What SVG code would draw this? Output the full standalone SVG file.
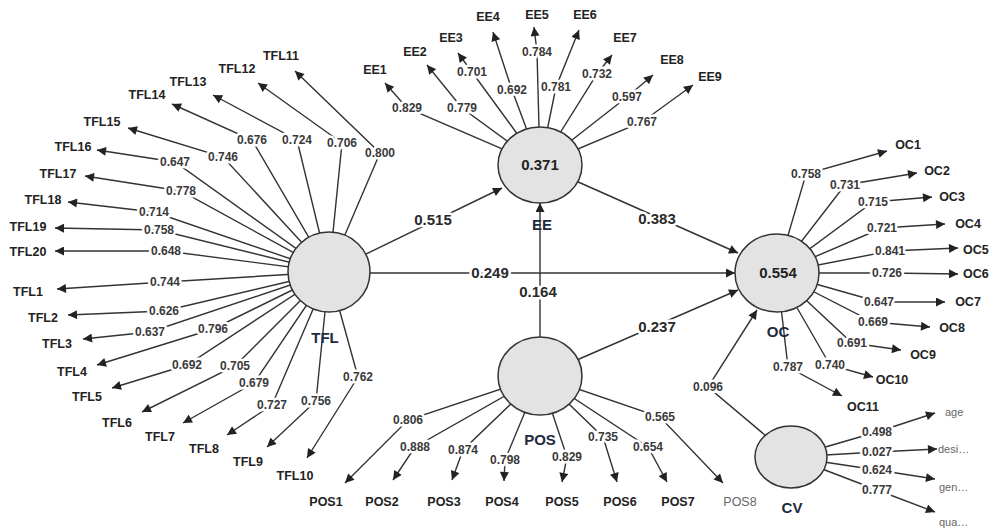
<svg xmlns="http://www.w3.org/2000/svg" width="993" height="530" viewBox="0 0 993 530">
<defs>
<marker id="ah" viewBox="0 0 10 10" refX="10" refY="5" markerWidth="10" markerHeight="9" markerUnits="userSpaceOnUse" orient="auto">
<path d="M0,0 L10,5 L0,10 z" fill="#222"/>
</marker>
<style>
.ln{fill:none;stroke:#333;stroke-width:1.4;marker-end:url(#ah)}
.ld{font-family:"Liberation Sans",Arial,sans-serif;font-weight:bold;font-size:12px;fill:#3a3a3a;text-anchor:middle;paint-order:stroke;stroke:#fff;stroke-width:5;stroke-linejoin:round}
.pc{font-family:"Liberation Sans",Arial,sans-serif;font-weight:bold;font-size:15px;fill:#2a2a2a;text-anchor:middle;paint-order:stroke;stroke:#fff;stroke-width:5;stroke-linejoin:round}
.ind{font-family:"Liberation Sans",Arial,sans-serif;font-weight:bold;font-size:12.5px;fill:#222;text-anchor:middle}
.cvi{font-family:"Liberation Sans",Arial,sans-serif;font-size:11px;fill:#666;text-anchor:start}
.cn{font-family:"Liberation Sans",Arial,sans-serif;font-weight:bold;font-size:15px;fill:#1e2a40;text-anchor:middle}
.val{font-family:"Liberation Sans",Arial,sans-serif;font-weight:bold;font-size:15px;fill:#222;text-anchor:middle}
.lv{fill:#e3e3e3;stroke:#333;stroke-width:1.5}
</style>
</defs>
<rect width="993" height="530" fill="#fff"/>

<g id="connectors">
<path class="ln" d="M329,272 L502,188"/>
<path class="ln" d="M329,273 L735,273"/>
<path class="ln" d="M540,376 L540,203"/>
<path class="ln" d="M540,165 L738,253"/>
<path class="ln" d="M540,376 L738,290"/>
<path class="ln" d="M791,457 L708,387 L757,310"/>
<path class="ln" d="M329,272 L165,282 L57,289"/>
<path class="ln" d="M329,272 L164,311 L68,315"/>
<path class="ln" d="M329,272 L150,332 L83,339"/>
<path class="ln" d="M329,272 L213,329 L97,365"/>
<path class="ln" d="M329,272 L187,365 L112,388"/>
<path class="ln" d="M329,272 L235,366 L142,412"/>
<path class="ln" d="M329,272 L254,383 L183,423"/>
<path class="ln" d="M329,272 L272,405 L227,435"/>
<path class="ln" d="M329,272 L316,401 L267,447"/>
<path class="ln" d="M329,272 L358,377 L307,458"/>
<path class="ln" d="M329,272 L380,153 L295,71"/>
<path class="ln" d="M329,272 L342,143 L258,83"/>
<path class="ln" d="M329,272 L297,140 L213,95"/>
<path class="ln" d="M329,272 L252,140 L172,104"/>
<path class="ln" d="M329,272 L223,157 L128,128"/>
<path class="ln" d="M329,272 L175,162 L97,150"/>
<path class="ln" d="M329,272 L181,191 L85,176"/>
<path class="ln" d="M329,272 L154,212 L68,202"/>
<path class="ln" d="M329,272 L159,230 L55,228"/>
<path class="ln" d="M329,272 L166,251 L55,251"/>
<path class="ln" d="M540,165 L407,108 L385,83"/>
<path class="ln" d="M540,165 L462,108 L427,65"/>
<path class="ln" d="M540,165 L472,72 L458,53"/>
<path class="ln" d="M540,165 L512,90 L493,32"/>
<path class="ln" d="M540,165 L537,52 L534,27"/>
<path class="ln" d="M540,165 L556,87 L579,30"/>
<path class="ln" d="M540,165 L597,74 L612,55"/>
<path class="ln" d="M540,165 L627,97 L653,75"/>
<path class="ln" d="M540,165 L642,122 L693,85"/>
<path class="ln" d="M777,273 L806,174 L887,151"/>
<path class="ln" d="M777,273 L845,185 L917,173"/>
<path class="ln" d="M777,273 L873,202 L932,197"/>
<path class="ln" d="M777,273 L882,228 L945,224"/>
<path class="ln" d="M777,273 L890,251 L958,248"/>
<path class="ln" d="M777,273 L887,273 L958,274"/>
<path class="ln" d="M777,273 L879,302 L945,302"/>
<path class="ln" d="M777,273 L873,322 L930,327"/>
<path class="ln" d="M777,273 L852,343 L901,350"/>
<path class="ln" d="M777,273 L830,365 L873,377"/>
<path class="ln" d="M777,273 L788,367 L842,396"/>
<path class="ln" d="M540,376 L408,420 L345,483"/>
<path class="ln" d="M540,376 L415,447 L393,480"/>
<path class="ln" d="M540,376 L463,450 L452,480"/>
<path class="ln" d="M540,376 L505,460 L504,481"/>
<path class="ln" d="M540,376 L567,457 L562,482"/>
<path class="ln" d="M540,376 L603,437 L617,482"/>
<path class="ln" d="M540,376 L648,447 L667,482"/>
<path class="ln" d="M540,376 L660,417 L723,483"/>
<path class="ln" d="M791,457 L877,432 L935,413"/>
<path class="ln" d="M791,457 L877,452 L937,449"/>
<path class="ln" d="M791,457 L877,470 L935,479"/>
<path class="ln" d="M791,457 L877,490 L935,512"/>
</g>

<g id="connector-labels">
<text class="pc" x="433" y="225">0.515</text>
<text class="pc" x="490" y="278">0.249</text>
<text class="pc" x="538" y="297">0.164</text>
<text class="pc" x="657" y="224">0.383</text>
<text class="pc" x="657" y="332">0.237</text>
<text class="ld" x="708" y="391">0.096</text>
<text class="ld" x="165" y="286">0.744</text>
<text class="ld" x="164" y="315">0.626</text>
<text class="ld" x="150" y="336">0.637</text>
<text class="ld" x="213" y="333">0.796</text>
<text class="ld" x="187" y="369">0.692</text>
<text class="ld" x="235" y="370">0.705</text>
<text class="ld" x="254" y="387">0.679</text>
<text class="ld" x="272" y="409">0.727</text>
<text class="ld" x="316" y="405">0.756</text>
<text class="ld" x="358" y="381">0.762</text>
<text class="ld" x="380" y="157">0.800</text>
<text class="ld" x="342" y="147">0.706</text>
<text class="ld" x="297" y="144">0.724</text>
<text class="ld" x="252" y="144">0.676</text>
<text class="ld" x="223" y="161">0.746</text>
<text class="ld" x="175" y="166">0.647</text>
<text class="ld" x="181" y="195">0.778</text>
<text class="ld" x="154" y="216">0.714</text>
<text class="ld" x="159" y="234">0.758</text>
<text class="ld" x="166" y="255">0.648</text>
<text class="ld" x="407" y="112">0.829</text>
<text class="ld" x="462" y="112">0.779</text>
<text class="ld" x="472" y="76">0.701</text>
<text class="ld" x="512" y="94">0.692</text>
<text class="ld" x="537" y="56">0.784</text>
<text class="ld" x="556" y="91">0.781</text>
<text class="ld" x="597" y="78">0.732</text>
<text class="ld" x="627" y="101">0.597</text>
<text class="ld" x="642" y="126">0.767</text>
<text class="ld" x="806" y="178">0.758</text>
<text class="ld" x="845" y="189">0.731</text>
<text class="ld" x="873" y="206">0.715</text>
<text class="ld" x="882" y="232">0.721</text>
<text class="ld" x="890" y="255">0.841</text>
<text class="ld" x="887" y="277">0.726</text>
<text class="ld" x="879" y="306">0.647</text>
<text class="ld" x="873" y="326">0.669</text>
<text class="ld" x="852" y="347">0.691</text>
<text class="ld" x="830" y="369">0.740</text>
<text class="ld" x="788" y="371">0.787</text>
<text class="ld" x="408" y="424">0.806</text>
<text class="ld" x="415" y="451">0.888</text>
<text class="ld" x="463" y="454">0.874</text>
<text class="ld" x="505" y="464">0.798</text>
<text class="ld" x="567" y="461">0.829</text>
<text class="ld" x="603" y="441">0.735</text>
<text class="ld" x="648" y="451">0.654</text>
<text class="ld" x="660" y="421">0.565</text>
<text class="ld" x="877" y="436">0.498</text>
<text class="ld" x="877" y="456">0.027</text>
<text class="ld" x="877" y="474">0.624</text>
<text class="ld" x="877" y="494">0.777</text>
</g>

<g id="TFL"><ellipse class="lv" cx="329" cy="272" rx="41" ry="40"/><text class="cn" x="325" y="343">TFL</text></g>
<g id="EE"><ellipse class="lv" cx="540" cy="165" rx="42" ry="38"/><text class="val" x="540" y="170">0.371</text><text class="cn" x="542" y="230">EE</text></g>
<g id="OC"><ellipse class="lv" cx="777" cy="273" rx="42" ry="39"/><text class="val" x="778" y="278">0.554</text><text class="cn" x="778" y="337">OC</text></g>
<g id="POS"><ellipse class="lv" cx="540" cy="376" rx="42" ry="39"/><text class="cn" x="540" y="445">POS</text></g>
<g id="CV"><ellipse class="lv" cx="791" cy="457" rx="36" ry="31"/><text class="cn" x="792" y="513">CV</text></g>

<g id="TFL1"><text class="ind" x="28" y="296">TFL1</text></g>
<g id="TFL2"><text class="ind" x="43" y="322">TFL2</text></g>
<g id="TFL3"><text class="ind" x="57" y="348">TFL3</text></g>
<g id="TFL4"><text class="ind" x="72" y="376">TFL4</text></g>
<g id="TFL5"><text class="ind" x="87" y="401">TFL5</text></g>
<g id="TFL6"><text class="ind" x="117" y="427">TFL6</text></g>
<g id="TFL7"><text class="ind" x="160" y="441">TFL7</text></g>
<g id="TFL8"><text class="ind" x="204" y="453">TFL8</text></g>
<g id="TFL9"><text class="ind" x="248" y="466">TFL9</text></g>
<g id="TFL10"><text class="ind" x="295" y="480">TFL10</text></g>
<g id="TFL11"><text class="ind" x="281" y="60">TFL11</text></g>
<g id="TFL12"><text class="ind" x="237" y="73">TFL12</text></g>
<g id="TFL13"><text class="ind" x="188" y="86">TFL13</text></g>
<g id="TFL14"><text class="ind" x="147" y="99">TFL14</text></g>
<g id="TFL15"><text class="ind" x="102" y="126">TFL15</text></g>
<g id="TFL16"><text class="ind" x="73" y="151">TFL16</text></g>
<g id="TFL17"><text class="ind" x="58" y="178">TFL17</text></g>
<g id="TFL18"><text class="ind" x="43" y="204">TFL18</text></g>
<g id="TFL19"><text class="ind" x="28" y="231">TFL19</text></g>
<g id="TFL20"><text class="ind" x="28" y="256">TFL20</text></g>

<g id="EE1"><text class="ind" x="375" y="74">EE1</text></g>
<g id="EE2"><text class="ind" x="415" y="56">EE2</text></g>
<g id="EE3"><text class="ind" x="451" y="42">EE3</text></g>
<g id="EE4"><text class="ind" x="488" y="21">EE4</text></g>
<g id="EE5"><text class="ind" x="537" y="19">EE5</text></g>
<g id="EE6"><text class="ind" x="585" y="19">EE6</text></g>
<g id="EE7"><text class="ind" x="625" y="42">EE7</text></g>
<g id="EE8"><text class="ind" x="672" y="64">EE8</text></g>
<g id="EE9"><text class="ind" x="710" y="81">EE9</text></g>

<g id="OC1"><text class="ind" x="908" y="149">OC1</text></g>
<g id="OC2"><text class="ind" x="937" y="175">OC2</text></g>
<g id="OC3"><text class="ind" x="952" y="201">OC3</text></g>
<g id="OC4"><text class="ind" x="968" y="228">OC4</text></g>
<g id="OC5"><text class="ind" x="963" y="254" style="text-anchor:start">OC5</text></g>
<g id="OC6"><text class="ind" x="963" y="278" style="text-anchor:start">OC6</text></g>
<g id="OC7"><text class="ind" x="968" y="306">OC7</text></g>
<g id="OC8"><text class="ind" x="952" y="332">OC8</text></g>
<g id="OC9"><text class="ind" x="923" y="359">OC9</text></g>
<g id="OC10"><text class="ind" x="892" y="384">OC10</text></g>
<g id="OC11"><text class="ind" x="863" y="411">OC11</text></g>

<g id="POS1"><text class="ind" x="326" y="506">POS1</text></g>
<g id="POS2"><text class="ind" x="382" y="506">POS2</text></g>
<g id="POS3"><text class="ind" x="444" y="506">POS3</text></g>
<g id="POS4"><text class="ind" x="502" y="506">POS4</text></g>
<g id="POS5"><text class="ind" x="562" y="506">POS5</text></g>
<g id="POS6"><text class="ind" x="620" y="506">POS6</text></g>
<g id="POS7"><text class="ind" x="678" y="506">POS7</text></g>
<g id="POS8"><text class="ind" x="740" y="506" style="font-weight:normal;fill:#666">POS8</text></g>

<g id="age"><text class="cvi" x="945" y="416">age</text></g>
<g id="desi"><text class="cvi" x="938" y="453">desi…</text></g>
<g id="gen"><text class="cvi" x="939" y="491">gen…</text></g>
<g id="qua"><text class="cvi" x="939" y="526">qua…</text></g>
</svg>
